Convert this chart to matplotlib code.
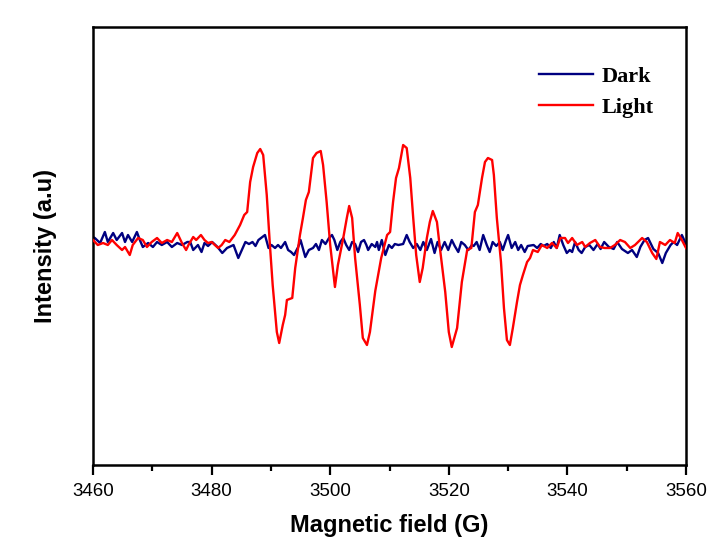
import matplotlib
matplotlib.use("Agg")
import matplotlib.pyplot as plt
from matplotlib.ticker import MultipleLocator

# ---- data (intensity in arbitrary units) ----
field_dark = [3460.0, 3460.3, 3461.2, 3462.0, 3462.5, 3463.4, 3464.0, 3464.9, 3465.4, 3465.9,
              3466.6, 3467.4, 3467.9, 3468.4, 3469.3, 3470.1, 3470.8, 3471.6, 3472.5, 3473.3,
              3474.2, 3475.0, 3475.9, 3476.4, 3476.9, 3477.7, 3478.3, 3478.8, 3479.4, 3480.1,
              3481.0, 3481.8, 3482.6, 3483.7, 3484.5, 3485.7, 3486.3, 3486.9, 3487.4, 3487.9,
              3489.0, 3489.6, 3490.1, 3490.7, 3491.2, 3491.7, 3492.4, 3492.9, 3493.4, 3493.9,
              3494.6, 3495.0, 3495.8, 3496.4, 3497.1, 3497.6, 3498.1, 3498.6, 3499.2, 3499.8,
              3500.3, 3500.7, 3501.2, 3501.7, 3502.2, 3502.7, 3503.2, 3503.7, 3504.2, 3504.7,
              3505.2, 3505.7, 3506.1, 3506.4, 3507.0, 3507.6, 3507.9, 3508.2, 3508.7, 3509.3,
              3509.9, 3510.4, 3510.9, 3511.5, 3512.3, 3512.9, 3513.4, 3514.0, 3514.6, 3515.2,
              3515.7, 3516.3, 3517.0, 3517.6, 3518.1, 3518.7, 3519.3, 3519.9, 3520.5, 3521.0,
              3521.6, 3522.1, 3522.7, 3523.3, 3523.9, 3524.2, 3524.7, 3525.2, 3525.8, 3526.4,
              3526.9, 3527.4, 3528.0, 3528.6, 3529.1, 3529.6, 3530.0, 3530.6, 3531.2, 3531.7,
              3532.2, 3532.8, 3533.3, 3534.3, 3534.9, 3535.5, 3536.0, 3536.6, 3537.2, 3537.7,
              3538.2, 3538.7, 3539.3, 3539.9, 3540.4, 3540.8, 3541.3, 3541.9, 3542.4, 3543.0,
              3543.7, 3544.4, 3545.1, 3545.6, 3546.2, 3547.0, 3547.8, 3548.4, 3549.2, 3550.2,
              3550.9, 3551.7, 3552.3, 3553.0, 3553.6, 3554.5, 3555.3, 3556.0, 3556.6, 3557.4,
              3557.9, 3558.5, 3559.3, 3560.0]
int_dark = [4, 3, -2, 9, -1, 8, 1, 8, -1, 6,
            -1, 9, 1, -6, -2, -6, -1, -4, -1, -6,
            -2, -4, -1, -1, -9, -4, -11, -2, -5, -1,
            -6, -12, -7, -4, -17, -1, -3, -1, -5, 1,
            6, -7, -4, -7, -4, -7, -1, -9, -11, -14,
            -6, 1, -16, -9, -7, -3, -9, 1, -3, 3,
            6, 1, -9, -1, 3, -4, -9, -1, -3, -11,
            -1, 1, -4, -9, -3, -6, -1, -9, 1, -14,
            -4, -7, -3, -4, -3, 6, -1, -7, -3, -9,
            -1, -9, 2, -12, -1, -9, -1, -9, 1, -5,
            -11, -1, -4, -9, -4, -5, -1, -9, 6, -4,
            -11, -1, -5, -1, -9, 0, 6, -7, -1, -9,
            -4, -11, -5, -4, -7, -3, -5, -3, -7, -1,
            -7, 6, -4, -12, -9, -11, -1, -9, -12, -6,
            -4, -9, -3, -8, -1, -6, -8, -1, -8, -12,
            -9, -16, -6, 1, 3, -8, -12, -22, -12, -4,
            -1, -4, 6, -3]

field_light = [3460.0, 3460.8, 3461.7, 3462.5, 3463.2, 3464.0, 3464.9, 3465.4, 3466.2, 3466.7,
               3467.6, 3468.4, 3469.1, 3469.9, 3470.8, 3471.6, 3472.5, 3473.3, 3474.2, 3475.0,
               3475.7, 3476.1, 3476.9, 3477.4, 3478.2, 3478.8, 3479.4, 3480.0, 3481.1, 3481.7,
               3482.3, 3483.0, 3483.9, 3484.8, 3485.5, 3486.0, 3486.5, 3487.0, 3487.7, 3488.2,
               3488.7, 3489.3, 3489.8, 3490.3, 3491.0, 3491.4, 3492.0, 3492.4, 3492.7, 3493.6,
               3494.1, 3494.9, 3495.4, 3495.9, 3496.4, 3497.1, 3497.7, 3498.4, 3498.8, 3499.4,
               3500.0, 3500.8, 3501.3, 3502.2, 3502.8, 3503.2, 3503.7, 3504.2, 3505.0, 3505.5,
               3506.2, 3506.7, 3507.6, 3508.6, 3509.6, 3510.1, 3510.6, 3511.1, 3511.6, 3512.3,
               3512.9, 3513.5, 3514.0, 3514.5, 3515.1, 3515.6, 3516.3, 3516.8, 3517.3, 3518.0,
               3518.5, 3519.4, 3520.0, 3520.5, 3521.4, 3522.2, 3523.1, 3523.8, 3524.4, 3524.9,
               3525.6, 3526.1, 3526.6, 3527.3, 3527.6, 3528.1, 3528.8, 3529.3, 3529.8, 3530.3,
               3530.8, 3531.5, 3532.0, 3532.5, 3533.2, 3533.7, 3534.2, 3535.0, 3535.7, 3536.6,
               3537.4, 3538.2, 3538.8, 3539.6, 3540.1, 3540.8, 3541.6, 3542.5, 3543.0, 3543.8,
               3544.7, 3545.5, 3546.3, 3547.2, 3548.0, 3548.9, 3549.7, 3550.6, 3551.4, 3552.6,
               3553.4, 3554.3, 3555.0, 3555.6, 3556.5, 3557.3, 3558.1, 3558.6, 3559.3, 3560.0]
int_light = [1, -4, -2, -4, 1, -4, -9, -6, -14, -4,
             3, 1, -6, -1, 3, -2, 1, -1, 8, -2,
             -9, -4, 4, 1, 6, 1, -2, -1, -7, -4,
             1, -1, 6, 16, 26, 29, 59, 74, 88, 92,
             86, 46, -1, -44, -91, -102, -84, -74, -59, -57,
             -27, 6, 23, 41, 49, 83, 88, 90, 76, 39,
             -4, -46, -24, 3, 23, 35, 23, -17, -64, -97,
             -104, -91, -50, -17, 6, 9, 39, 63, 73, 96,
             93, 63, 23, -14, -41, -27, 3, 19, 30, 19,
             -7, -51, -91, -106, -87, -41, -9, -7, 29, 36,
             63, 79, 83, 81, 66, 23, -21, -67, -99, -104,
             -87, -61, -44, -34, -21, -17, -9, -11, -4, -7,
             -2, -7, 3, 3, -2, 3, -4, -1, -6, -2,
             1, -6, -7, -7, -4, 1, -1, -7, -4, 3,
             -1, -12, -18, -1, -4, 1, -2, 8, 1, -7]

labels = ["Dark", "Light"]
colors = ["#000080", "#ff0000"]
xticks = [3460, 3480, 3500, 3520, 3540, 3560]

# ---- figure ----
plt.rcParams["font.family"] = ["Liberation Sans", "DejaVu Sans"]
fig = plt.figure(figsize=(7.07, 5.39), dpi=100)
ax = fig.add_axes([93 / 707, 1 - 465 / 539, (686 - 93) / 707, (465 - 27) / 539])

ax.plot(field_dark, int_dark, color=colors[0], lw=1.7, label=labels[0], zorder=2)
ax.plot(field_light, int_light, color=colors[1], lw=1.7, label=labels[1], zorder=3)

ax.set_xlim(3460, 3560)
ax.set_ylim(-224, 214)
ax.set_xticks(xticks)
ax.xaxis.set_minor_locator(MultipleLocator(10))
ax.set_yticks([])
ax.tick_params(axis="x", which="major", direction="out", length=7, width=1.6,
               labelsize=13.5, pad=6)
ax.tick_params(axis="x", which="minor", direction="out", length=4, width=1.6)
for s in ax.spines.values():
    s.set_linewidth(1.8)

ax.set_xlabel("Magnetic field (G)", fontsize=17, fontweight="bold", labelpad=10)
ax.set_ylabel("Intensity (a.u)", fontsize=17, fontweight="bold", labelpad=26)

leg = ax.legend(loc="upper right", bbox_to_anchor=(0.972, 0.945), frameon=False,
                prop={"family": ["Liberation Serif", "DejaVu Serif"], "weight": "bold", "size": 16},
                handlelength=2.4, handletextpad=0.4, labelspacing=0.45, borderpad=0.2)

fig.savefig("out.png", dpi=100, facecolor="white")
